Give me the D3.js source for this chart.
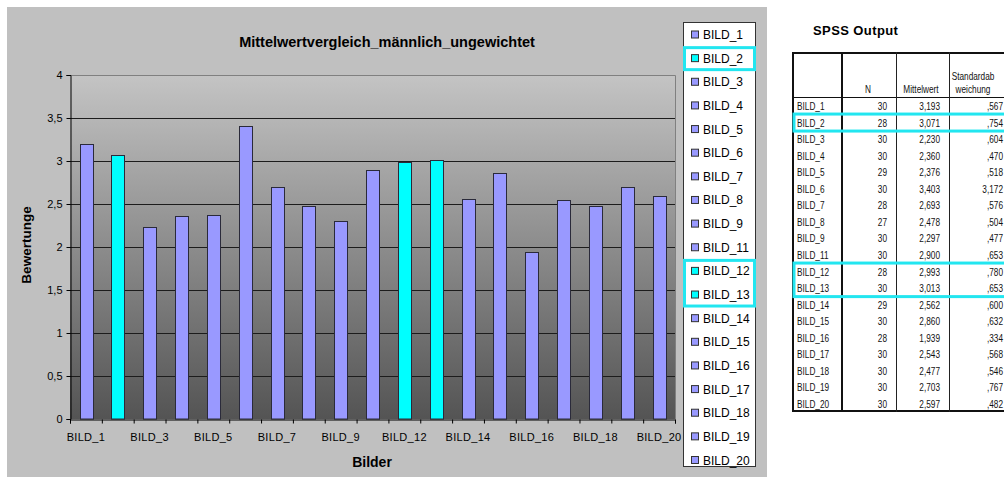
<!DOCTYPE html>
<html>
<head>
<meta charset="utf-8">
<script src="https://cdn.jsdelivr.net/npm/d3@7"></script>
<style>
body { margin: 0; background: #fff; }
svg { display: block; font-family: Arial, "Liberation Sans", sans-serif; }
</style>
</head>
<body>
<div id="chart"></div>
<script>

// daten aus der SPSS ausgabe
var bilder = ["BILD_1", "BILD_2", "BILD_3", "BILD_4", "BILD_5", "BILD_6", "BILD_7", "BILD_8", "BILD_9", "BILD_11",
              "BILD_12", "BILD_13", "BILD_14", "BILD_15", "BILD_16", "BILD_17", "BILD_18", "BILD_19", "BILD_20"];
var mittelwert = [3.193, 3.071, 2.230, 2.360, 2.376, 3.403, 2.693, 2.478, 2.297, 2.900,
                  2.993, 3.013, 2.562, 2.860, 1.939, 2.543, 2.477, 2.703, 2.597];
var anzahl = [30, 28, 30, 30, 29, 30, 28, 27, 30, 30, 28, 30, 29, 30, 28, 30, 30, 30, 30];
var stdabw = [0.567, 0.754, 0.604, 0.470, 0.518, 3.172, 0.576, 0.504, 0.477, 0.653,
              0.780, 0.653, 0.600, 0.632, 0.334, 0.568, 0.546, 0.767, 0.482];
var markiert = ["BILD_2", "BILD_12", "BILD_13"];
var yTicks = [0, 0.5, 1, 1.5, 2, 2.5, 3, 3.5, 4];

var width = 1004,
    height = 477;

var de = d3.formatLocale({decimal: ",", thousands: ".", grouping: [3], currency: ["", " €"]});
var fmtAxis = de.format(".2~f");
var fmtMean = de.format(".3f");
function fmtStd(v) {
    return fmtMean(v).replace(/^0/, "");
}

function farbe(name) {
    return markiert.indexOf(name) > -1 ? "#00ffff" : "#9999ff";
}

var svg = d3.select("#chart").append("svg")
    .attr("width", width)
    .attr("height", height);

var defs = svg.append("defs");
var grad = defs.append("linearGradient")
    .attr("id", "plotbg")
    .attr("x1", 0).attr("y1", 0).attr("x2", 0).attr("y2", 1);
grad.append("stop").attr("offset", "0%").attr("stop-color", "#c4c4c4");
grad.append("stop").attr("offset", "100%").attr("stop-color", "#545454");

// grauer diagrammbereich
svg.append("rect")
    .attr("x", 7).attr("y", 7)
    .attr("width", 760).attr("height", 470)
    .attr("fill", "#c0c0c0");

var plot = {left: 70, right: 675, top: 75, bottom: 419};

var x = d3.scaleBand()
    .domain(bilder)
    .range([plot.left, plot.right])
    .paddingInner(0)
    .paddingOuter(0);

var xEdge = d3.scaleLinear()
    .domain([0, bilder.length])
    .range([plot.left, plot.right]);

var y = d3.scaleLinear()
    .domain([0, 4])
    .range([plot.bottom, plot.top]);

svg.append("rect")
    .attr("x", plot.left).attr("y", plot.top)
    .attr("width", plot.right - plot.left)
    .attr("height", plot.bottom - plot.top)
    .attr("fill", "url(#plotbg)");

// gitternetz
svg.append("g")
    .selectAll("line")
    .data(yTicks.filter(function(d) { return d > 0 && d < 4; }))
    .enter().append("line")
    .attr("x1", plot.left)
    .attr("x2", plot.right)
    .attr("y1", function(d) { return Math.round(y(d)) + 0.5; })
    .attr("y2", function(d) { return Math.round(y(d)) + 0.5; })
    .attr("stroke", "#1c1c1c")
    .attr("stroke-width", 1);

// rahmen oben + rechts
svg.append("path")
    .attr("d", "M" + plot.left + "," + (plot.top + 0.5) + "H" + (plot.right + 0.5) + "V" + plot.bottom)
    .attr("fill", "none")
    .attr("stroke", "#808080");

// balken
var bw = x.bandwidth() * 0.4;
svg.append("g")
    .selectAll("rect")
    .data(bilder)
    .enter().append("rect")
    .attr("x", function(d) { return Math.round(x(d) + (x.bandwidth() - bw) / 2) + 0.5; })
    .attr("y", function(d, i) { return Math.round(y(mittelwert[i])) + 0.5; })
    .attr("width", Math.round(bw))
    .attr("height", function(d, i) { return plot.bottom - Math.round(y(mittelwert[i])) - 0.5; })
    .attr("fill", function(d) { return farbe(d); })
    .attr("stroke", "#2a2a3a")
    .attr("stroke-width", 1);

// y achse
var yAxis = svg.append("g")
    .attr("transform", "translate(" + (plot.left + 0.5) + ",0)")
    .call(d3.axisLeft(y).tickValues(yTicks).tickFormat(fmtAxis).tickSize(4).tickPadding(4));
yAxis.select(".domain").attr("stroke", "#000");
yAxis.selectAll("text").attr("font-size", 11).attr("font-family", "Arial, 'Liberation Sans', sans-serif").attr("fill", "#000");

// x achse: striche an den kategoriegrenzen
var xTickAxis = svg.append("g")
    .attr("transform", "translate(0," + (plot.bottom + 0.5) + ")")
    .call(d3.axisBottom(xEdge).tickValues(d3.range(0, bilder.length + 1)).tickFormat("").tickSize(4));
xTickAxis.select(".domain").attr("stroke", "#000");

var xLabelAxis = svg.append("g")
    .attr("transform", "translate(0," + plot.bottom + ")")
    .call(d3.axisBottom(x).tickValues(bilder.filter(function(d, i) { return i % 2 == 0; })).tickSize(0).tickPadding(14));
xLabelAxis.select(".domain").remove();
xLabelAxis.selectAll("text").attr("font-size", 11).attr("font-family", "Arial, 'Liberation Sans', sans-serif").attr("fill", "#000")
    .attr("letter-spacing", 0.3);

// titel
svg.append("text")
    .attr("x", 387).attr("y", 47)
    .attr("text-anchor", "middle")
    .attr("font-size", 14.5).attr("font-weight", "bold")
    .text("Mittelwertvergleich_männlich_ungewichtet");

svg.append("text")
    .attr("transform", "translate(31,245) rotate(-90)")
    .attr("text-anchor", "middle")
    .attr("font-size", 13.5).attr("font-weight", "bold")
    .text("Bewertunge");

svg.append("text")
    .attr("x", 372).attr("y", 467)
    .attr("text-anchor", "middle")
    .attr("font-size", 14).attr("font-weight", "bold")
    .text("Bilder");

// legende
var lg = svg.append("g");
lg.append("rect")
    .attr("x", 683.5).attr("y", 22.5)
    .attr("width", 72).attr("height", 444)
    .attr("fill", "#fff")
    .attr("stroke", "#333");

var ly = d3.scaleLinear().domain([0, bilder.length - 1]).range([34.5, 460]);

var eintrag = lg.selectAll("g.eintrag")
    .data(bilder)
    .enter().append("g")
    .attr("class", "eintrag")
    .attr("transform", function(d, i) { return "translate(0," + ly(i) + ")"; });
eintrag.append("rect")
    .attr("x", 691.5).attr("y", -3.5)
    .attr("width", 7).attr("height", 7)
    .attr("fill", function(d) { return farbe(d); })
    .attr("stroke", "#333");
eintrag.append("text")
    .attr("x", 703).attr("y", 4.5)
    .attr("font-size", 12)
    .text(function(d) { return d; });

// markierungen in der legende
function gruppen(list) {
    var out = [];
    list.forEach(function(name) {
        var i = bilder.indexOf(name);
        var last = out[out.length - 1];
        if (last && last.end == i - 1) last.end = i;
        else out.push({start: i, end: i});
    });
    return out;
}
var markGruppen = gruppen(markiert);

svg.append("g")
    .selectAll("rect")
    .data(markGruppen)
    .enter().append("rect")
    .attr("x", 684.5)
    .attr("y", function(d) { return ly(d.start) - 10.5; })
    .attr("width", 70)
    .attr("height", function(d) { return ly(d.end) - ly(d.start) + 22; })
    .attr("fill", "none")
    .attr("stroke", "#22e6f0")
    .attr("stroke-width", 3);

// SPSS ausgabe
var spss = svg.append("g").attr("class", "spss");

svg.append("text")
    .attr("x", 813).attr("y", 35)
    .attr("font-size", 13).attr("font-weight", "bold")
    .attr("letter-spacing", 0.4)
    .text("SPSS Output");

// schmale schrift: Liberation Sans horizontal gestaucht
function schmal(g, xPos, yPos, anchor, txt) {
    g.append("text")
        .attr("transform", "translate(" + xPos + "," + yPos + ") scale(0.7,1)")
        .attr("text-anchor", anchor)
        .attr("font-size", 11.8)
        .attr("fill", "#111")
        .text(txt);
}

var ry = d3.scaleLinear().domain([0, bilder.length - 1]).range([106, 404]);
var col = {left: 793, c1: 842, c2: 896, c3: 949, right: 1012};

spss.append("line").attr("x1", col.left).attr("x2", col.right).attr("y1", 53).attr("y2", 53).attr("stroke", "#111").attr("stroke-width", 2);
spss.append("line").attr("x1", col.left).attr("x2", col.right).attr("y1", 97.5).attr("y2", 97.5).attr("stroke", "#111").attr("stroke-width", 1);
spss.append("line").attr("x1", col.left).attr("x2", col.right).attr("y1", 411).attr("y2", 411).attr("stroke", "#111").attr("stroke-width", 2);
spss.append("line").attr("x1", col.left).attr("x2", col.left).attr("y1", 52).attr("y2", 412).attr("stroke", "#111").attr("stroke-width", 2);
spss.append("line").attr("x1", col.c1).attr("x2", col.c1).attr("y1", 52).attr("y2", 412).attr("stroke", "#111").attr("stroke-width", 2);
spss.append("line").attr("x1", col.c2 + 0.5).attr("x2", col.c2 + 0.5).attr("y1", 52).attr("y2", 412).attr("stroke", "#222").attr("stroke-width", 1);
spss.append("line").attr("x1", col.c3 + 0.5).attr("x2", col.c3 + 0.5).attr("y1", 52).attr("y2", 412).attr("stroke", "#222").attr("stroke-width", 1);

schmal(spss, 868, 93, "middle", "N");
schmal(spss, 921, 93, "middle", "Mittelwert");
schmal(spss, 973, 80, "middle", "Standardab");
schmal(spss, 973, 93, "middle", "weichung");

bilder.forEach(function(d, i) {
    var yy = ry(i) + 4;
    schmal(spss, 797, yy, "start", d);
    schmal(spss, 887, yy, "end", anzahl[i]);
    schmal(spss, 940, yy, "end", fmtMean(mittelwert[i]));
    schmal(spss, 1003, yy, "end", fmtStd(stdabw[i]));
});

svg.append("g")
    .selectAll("rect")
    .data(markGruppen)
    .enter().append("rect")
    .attr("x", 794)
    .attr("y", function(d) { return ry(d.start) - 8.5; })
    .attr("width", 220)
    .attr("height", function(d) { return ry(d.end) - ry(d.start) + 17; })
    .attr("fill", "none")
    .attr("stroke", "#22e6f0")
    .attr("stroke-width", 3);

</script>
</body>
</html>
